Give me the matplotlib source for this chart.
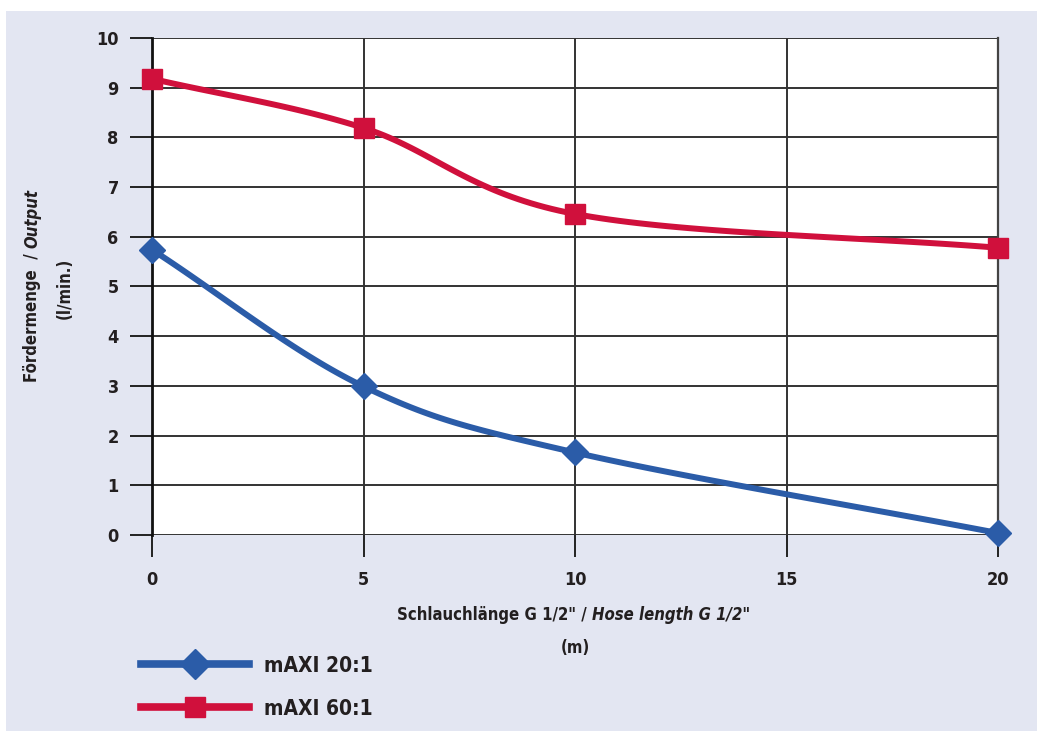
import numpy as np
import matplotlib.pyplot as plt
from matplotlib.patches import Rectangle

# hose length (m) and output (l/min)
laenge = [0, 5, 10, 20]
maxi_20 = [5.74, 2.99, 1.66, 0.04]
maxi_60 = [9.18, 8.19, 6.46, 5.78]
xticks = [0, 5, 10, 15, 20]
yticks = list(range(0, 11))

plt.rcParams['font.family'] = ['DejaVu Sans']
plt.rcParams['font.weight'] = 'bold'
plt.rcParams['font.stretch'] = 'condensed'
txt = '#231F20'

def smooth(x, y, n=40):
    # Catmull-Rom style smoothing for the line (like Excel smoothed line)
    x = np.asarray(x, float)
    y = np.asarray(y, float)
    px = np.concatenate([[2*x[0]-x[1]], x, [2*x[-1]-x[-2]]])
    py = np.concatenate([[2*y[0]-y[1]], y, [2*y[-1]-y[-2]]])
    xs, ys = [], []
    t = np.linspace(0, 1, n)
    for i in range(1, len(px)-2):
        for arr, out in ((px, xs), (py, ys)):
            p0, p1, p2, p3 = arr[i-1], arr[i], arr[i+1], arr[i+2]
            out.extend(0.5*((2*p1) + (-p0+p2)*t + (2*p0-5*p1+4*p2-p3)*t**2
                            + (-p0+3*p1-3*p2+p3)*t**3))
    return np.array(xs), np.array(ys)

W, H = 1037, 731
fig = plt.figure(figsize=(W/100, H/100), dpi=100, facecolor='white')
fig.patches.append(Rectangle((6/W, 0), 1-6/W, 1-11/H, transform=fig.transFigure,
                             facecolor='#E3E6F2', edgecolor='none', zorder=-10))

ax = fig.add_axes([152/W, 1-535/H, (998-152)/W, (535-38)/H])
ax.set_facecolor('white')
ax.set_xlim(0, 20)
ax.set_ylim(0, 10)
ax.set_xticks(xticks)
ax.set_yticks(yticks)
ax.tick_params(axis='both', length=16, width=1.4, color='#222222', labelsize=13,
               labelcolor=txt)
ax.tick_params(axis='y', pad=8)
ax.tick_params(axis='x', pad=10)
ax.grid(True, color='#333333', linewidth=1.4)
ax.set_axisbelow(True)
for s in ['top', 'bottom']:
    ax.spines[s].set_visible(False)
ax.spines['left'].set_linewidth(2.0)
ax.spines['left'].set_color('#111111')
ax.spines['left'].set_bounds(0, 10)
ax.spines['right'].set_linewidth(1.6)
ax.spines['right'].set_color('#444444')

blue = '#2B5CA8'
red = '#D0103C'
sx, sy = smooth(laenge, maxi_20)
ax.plot(sx, sy, color=blue, lw=4.3, zorder=3, clip_on=False)
ax.plot(laenge, maxi_20, 'D', color=blue, ms=13, zorder=4, clip_on=False)
sx, sy = smooth(laenge, maxi_60)
ax.plot(sx, sy, color=red, lw=4.3, zorder=3, clip_on=False)
ax.plot(laenge, maxi_60, 's', color=red, ms=14, zorder=4, clip_on=False)

# legend handles
h1, = ax.plot([], [], color=blue, lw=5.5, marker='D', ms=15, label='mAXI 20:1')
h2, = ax.plot([], [], color=red, lw=5.5, marker='s', ms=14, label='mAXI 60:1')
leg = fig.legend(handles=[h1, h2], loc='upper left', bbox_to_anchor=(122/W, 1-637/H),
                 frameon=False, handlelength=5.2, labelspacing=1.1,
                 handletextpad=0.72, prop={'size': 15, 'weight': 'bold', 'stretch': 'condensed'})
for t in leg.get_texts():
    t.set_color(txt)

# x label: bold + bold italic
t1 = fig.text(397/W, 1-615/H, 'Schlauchlänge G 1/2" / ', fontsize=12, va='center', ha='left',
              color=txt)
ax.annotate('Hose length G 1/2"', xy=(1, 0), xycoords=t1, va='bottom', ha='left',
            fontsize=12, style='italic', annotation_clip=False, color=txt)
fig.text(575/W, 1-648/H, '(m)', fontsize=12, ha='center', va='center', color=txt)

# y label
t2 = fig.text(32/W, 1-382/H, 'Fördermenge  / ', fontsize=12, rotation=90, ha='center',
              va='bottom', color=txt)
ax.annotate('Output', xy=(0, 1), xycoords=t2, va='bottom', ha='left', rotation=90,
            fontsize=12, style='italic', annotation_clip=False, color=txt)
fig.text(65/W, 1-288/H, '(l/min.)', fontsize=12, rotation=90, ha='center', va='center',
         color=txt)

fig.savefig('out.png', dpi=100, facecolor='white')
